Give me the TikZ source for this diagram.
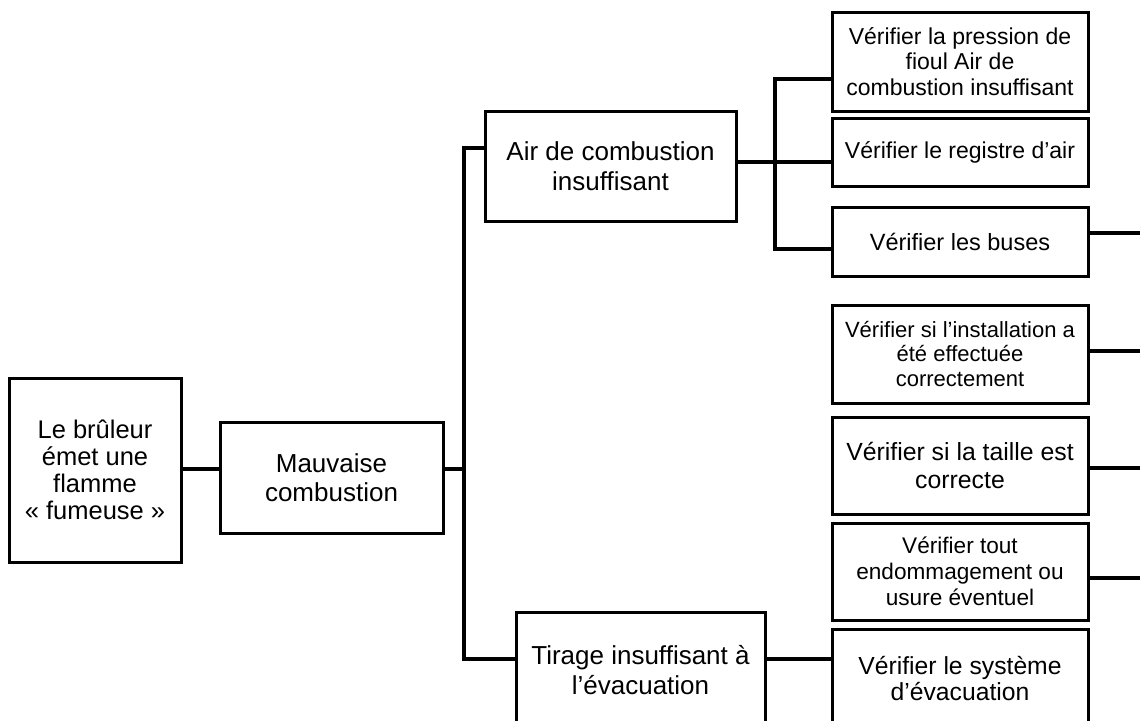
\documentclass[tikz,border=0pt]{standalone}
\usepackage{fontspec}
\setmainfont{Liberation Sans}
\begin{document}
\begin{tikzpicture}[x=1pt, y=-1pt]
    % Define styles
    \tikzset{
        cause/.style={draw, line width=3pt, inner sep=0pt, align=center, font=\fontsize{26}{29.5}\selectfont},
        check/.style={draw, line width=3pt, inner sep=0pt, align=center, minimum width=256pt, font=\fontsize{23}{25.5}\selectfont},
        link/.style={line width=3.4pt}
    }

    % Page frame (the lowest boxes run off the page)
    \useasboundingbox (0,0) rectangle (1140,720);
    \clip (0,0) rectangle (1140,720);

    % Problem and first cause
    \node[cause, minimum width=172pt, minimum height=184pt, font=\fontsize{25.5}{27}\selectfont] (flamme) at (95,470) {Le brûleur\\émet une\\flamme\\« fumeuse »};
    \node[cause, minimum width=223pt, minimum height=111pt] (mauv) at (331.5,477.5) {Mauvaise\\combustion};

    % Second level causes
    \node[cause, minimum width=251pt, minimum height=110pt] (air) at (610.5,166) {Air de combustion\\insuffisant};
    \node[cause, minimum width=249pt, minimum height=116pt] (tir) at (640.5,670) {Tirage insuffisant à\\l’évacuation};

    % Checks
    \node[check, minimum height=99pt] (pres) at (960,61.5) {Vérifier la pression de\\fioul Air de\\combustion insuffisant};
    \node[check, minimum height=68pt] (reg) at (960,152) {Vérifier le registre d’air};
    \node[check, minimum height=69pt, font=\fontsize{23.5}{26}\selectfont] (bus) at (960,241.5) {Vérifier les buses};
    \node[check, minimum height=98pt, font=\fontsize{22}{24.7}\selectfont] (inst) at (960,354) {Vérifier si l’installation a\\été effectuée\\correctement};
    \node[check, minimum height=97pt, font=\fontsize{24.8}{28}\selectfont] (taille) at (960,465.5) {Vérifier si la taille est\\correcte};
    \node[check, minimum height=97pt, font=\fontsize{22.6}{25.8}\selectfont] (usure) at (960,571.5) {Vérifier tout\\endommagement ou\\usure éventuel};
    \node[check, minimum height=99pt, font=\fontsize{24.7}{26.7}\selectfont] (evac) at (960,678.5) {Vérifier le système\\d’évacuation};

    % Junction points
    \coordinate (tr) at (464,469);
    \coordinate (airin) at (464,148);
    \coordinate (tirin) at (464,659);
    \coordinate (st) at (775,162);
    \coordinate (sttop) at (775,79);
    \coordinate (stbot) at (775,249);

    % Loose ends at the right edge
    \coordinate (e1) at (1145,233);
    \coordinate (e2) at (1145,351);
    \coordinate (e3) at (1145,468);
    \coordinate (e4) at (1145,578);

    % Main trunk
    \draw[link] (flamme.east |- tr) -- (mauv.west |- tr);
    \draw[link] (mauv.east |- tr) -- (tr);
    \draw[link] (air.west |- airin) -- (airin) -- (tirin) -- (tir.west |- tirin);

    % Air branch
    \draw[link] (air.east |- st) -- (reg.west |- st);
    \draw[link] (pres.west |- sttop) -- (sttop) -- (stbot) -- (bus.west |- stbot);

    % Tirage branch
    \draw[link] (tir.east |- tirin) -- (evac.west |- tirin);

    % Right stubs
    \draw[link] (bus.east |- e1) -- (e1);
    \draw[link] (inst.east |- e2) -- (e2);
    \draw[link] (taille.east |- e3) -- (e3);
    \draw[link] (usure.east |- e4) -- (e4);

\end{tikzpicture}
\end{document}
